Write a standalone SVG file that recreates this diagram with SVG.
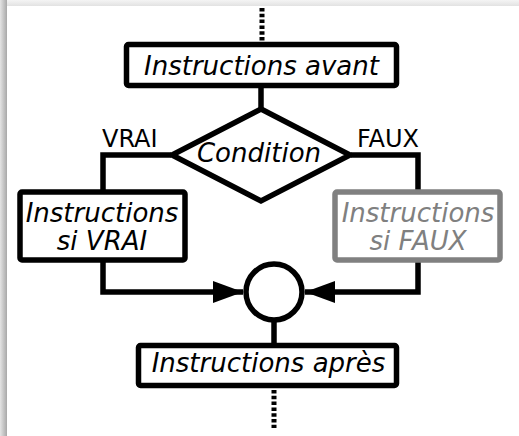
<svg xmlns="http://www.w3.org/2000/svg" width="519" height="436" viewBox="0 0 519 436">
  <defs>
    <linearGradient id="shL" x1="0" y1="0" x2="1" y2="0">
      <stop offset="0" stop-color="#e4e4e4"/>
      <stop offset="1" stop-color="#a8a8a8"/>
    </linearGradient>
    <linearGradient id="shT" x1="0" y1="0" x2="0" y2="1">
      <stop offset="0" stop-color="#f4f4f4"/>
      <stop offset="1" stop-color="#e2e2e2"/>
    </linearGradient>
    <marker id="arr" markerUnits="userSpaceOnUse" markerWidth="32" markerHeight="24" refX="30" refY="11" orient="auto">
      <path d="M0,0 L30,11 L0,22 Z" fill="#000"/>
    </marker>
    <style>
      .box { fill: #fff; stroke: #000; stroke-width: 5.5; }
      .grey { stroke: #808080; }
      .ln { fill: none; stroke: #000; stroke-width: 5.5; stroke-linejoin: miter; }
      .dot { fill: none; stroke: #000; stroke-width: 5; stroke-dasharray: 3.5 2.3; }
      .t { font-family: "DejaVu Sans", sans-serif; font-style: italic; font-size: 26px; fill: #000; text-anchor: middle; }
      .lab { font-family: "DejaVu Sans", sans-serif; font-size: 24px; fill: #000; }
      .tg { fill: #808080; }
    </style>
  </defs>
  <rect x="0" y="0" width="519" height="436" fill="#fff"/>
  <rect x="0" y="0" width="519" height="6" fill="url(#shT)"/>
  <rect x="0" y="0" width="7" height="436" fill="url(#shL)"/>

  <g id="connectors">
    <line class="dot" x1="262" y1="8" x2="262" y2="42"/>
    <line class="ln" x1="261" y1="88" x2="261" y2="109"/>
    <polyline class="ln" points="171,155 103,155 103,190"/>
    <polyline class="ln" points="351,155 418,155 418,190"/>
    <polyline class="ln" points="103,262 103,292 243,292" marker-end="url(#arr)"/>
    <polyline class="ln" points="418,262 418,292 305,292" marker-end="url(#arr)"/>
    <line class="ln" x1="274" y1="319" x2="274" y2="344"/>
    <line class="dot" x1="274" y1="390" x2="274" y2="428"/>
  </g>

  <g id="before">
    <rect class="box" x="126.5" y="44.5" width="270" height="41" rx="2"/>
    <text class="t" x="261.5" y="75">Instructions avant</text>
  </g>

  <g id="condition">
    <polygon class="box" points="261,109 350,155 261,201 172,155"/>
    <text class="t" x="259" y="162">Condition</text>
  </g>

  <g id="label-vrai">
    <text class="lab" x="102" y="147">VRAI</text>
  </g>
  <g id="label-faux">
    <text class="lab" x="357" y="147">FAUX</text>
  </g>

  <g id="si-vrai">
    <rect class="box" x="20" y="192" width="165" height="68" rx="2"/>
    <text class="t" x="102" y="222">Instructions</text>
    <text class="t" x="102" y="250">si VRAI</text>
  </g>

  <g id="si-faux">
    <rect class="box grey" x="335" y="192" width="165" height="68" rx="2"/>
    <text class="t tg" x="418" y="222">Instructions</text>
    <text class="t tg" x="418" y="250">si FAUX</text>
  </g>

  <g id="junction">
    <circle cx="274" cy="292" r="28" fill="#fff" stroke="#000" stroke-width="5.5"/>
  </g>

  <g id="after">
    <rect class="box" x="138.5" y="345.5" width="258" height="40" rx="2"/>
    <text class="t" x="268.5" y="372">Instructions après</text>
  </g>
</svg>
